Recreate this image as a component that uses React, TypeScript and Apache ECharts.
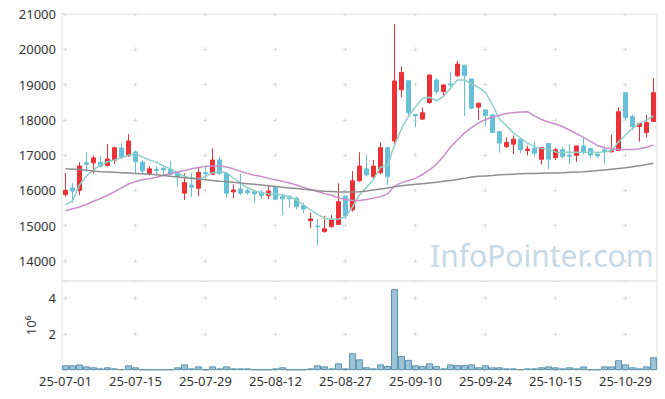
import React, { useEffect, useRef } from 'react';
import * as echarts from 'echarts';

const dates = [
  '25-07-01','25-07-02','25-07-03','25-07-04','25-07-07','25-07-08','25-07-09','25-07-10','25-07-11','25-07-14',
  '25-07-15','25-07-16','25-07-17','25-07-18','25-07-21','25-07-22','25-07-23','25-07-24','25-07-25','25-07-28',
  '25-07-29','25-07-30','25-07-31','25-08-01','25-08-04','25-08-05','25-08-06','25-08-07','25-08-08','25-08-11',
  '25-08-12','25-08-13','25-08-14','25-08-18','25-08-19','25-08-20','25-08-21','25-08-22','25-08-25','25-08-26',
  '25-08-27','25-08-28','25-08-29','25-09-01','25-09-02','25-09-03','25-09-04','25-09-05','25-09-08','25-09-09',
  '25-09-10','25-09-11','25-09-12','25-09-15','25-09-16','25-09-17','25-09-18','25-09-19','25-09-22','25-09-23',
  '25-09-24','25-09-25','25-09-26','25-09-29','25-09-30','25-10-01','25-10-02','25-10-10','25-10-13','25-10-14',
  '25-10-15','25-10-16','25-10-17','25-10-20','25-10-21','25-10-22','25-10-23','25-10-24','25-10-27','25-10-28',
  '25-10-29','25-10-30','25-10-31','25-11-03','25-11-04'
];

const openPrices = [
  15880,16070,16000,16780,16780,16800,16700,16850,17200,16980,
  17090,16800,16480,16590,16620,16600,16510,15920,16150,16060,
  16500,16460,16860,16480,15960,16040,15990,15960,15950,15850,
  16080,15820,15820,15780,15560,15140,14990,14830,14970,15030,
  15840,15450,16270,16610,16390,16500,17210,17400,18850,19110,
  18150,18020,18490,19130,18800,19020,19250,19550,19160,18360,
  18280,18140,17670,17240,17310,17450,17130,17200,16880,17330,
  16930,17150,17000,16990,17260,17190,17030,17150,17090,17130,
  18770,18090,17810,17640,17950
];
const closePrices = [
  16000,15980,16690,16740,16920,16680,16890,17210,16940,17400,
  16810,16550,16610,16560,16580,16460,16390,16220,16090,16510,
  16470,16860,16480,15920,16010,15920,15930,15900,15850,15980,
  15750,15760,15760,15540,15470,15190,14970,14910,15160,15680,
  15280,16270,16690,16440,16690,17210,16390,19100,19340,18200,
  18110,18200,19270,18800,18990,18990,19580,19250,18330,18470,
  18120,17640,17340,17360,17450,17150,17170,17050,17210,16880,
  17150,16960,16970,17260,17070,17000,16980,17100,17130,18230,
  18060,17810,17900,17920,18770
];
const lowPrices = [
  15820,15650,15870,16530,16480,16650,16690,16750,16920,16950,
  16480,16480,16420,16420,16420,16440,16090,15730,15820,15840,
  16300,16440,16440,15800,15780,15870,15880,15650,15760,15750,
  15720,15300,15510,15470,15350,14930,14440,14800,14950,15020,
  15190,15400,16240,16400,16300,16450,16140,17290,18640,18090,
  17790,18000,18450,18720,18660,18850,19220,18110,18300,18000,
  17810,17630,17070,17200,17030,17050,16990,16960,16730,16600,
  16860,16900,16750,16810,17030,16920,16920,16740,17080,17120,
  18000,17700,17380,17500,17950
];
const highPrices = [
  16490,16200,16800,17080,16990,16980,17310,17240,17330,17590,
  17130,16850,16690,16680,16680,16830,16530,16480,16500,16630,
  16660,17190,16960,16530,16170,16480,16050,15960,16010,16130,
  16100,15920,15870,15820,15640,15370,15180,15280,15300,16200,
  15840,16550,17080,17020,16860,17360,17230,20710,19510,19120,
  18160,18340,19280,19180,19000,19350,19670,19560,19170,18490,
  18290,18150,17680,17500,17560,17460,17270,17370,17220,17340,
  17200,17230,17310,17270,17500,17200,17040,17270,17570,18360,
  18780,18150,17910,18140,19180
];

const ma5 = [
  15590,15700,16150,16410,16580,16720,16810,16860,16920,17000,
  17040,16950,16860,16800,16690,16610,16500,16400,16340,16330,
  16390,16500,16530,16500,16350,16210,16070,15990,15930,15900,
  15900,15870,15810,15730,15590,15450,15320,15210,15180,15190,
  15250,15530,15870,16090,16310,16660,16690,17290,17740,18100,
  18360,18610,18640,18540,18660,18900,19130,19130,19030,18920,
  18780,18420,18020,17830,17630,17480,17340,17240,17190,17160,
  17090,17080,17080,17080,17080,17080,17080,17090,17120,17380,
  17570,17760,17900,17990,18110
];
const ma20 = [
  15420,15480,15530,15600,15690,15770,15860,15960,16070,16180,
  16250,16300,16330,16370,16430,16470,16520,16560,16610,16650,
  16680,16690,16690,16660,16610,16540,16480,16430,16390,16340,
  16300,16260,16210,16150,16080,16030,15970,15910,15860,15790,
  15740,15710,15710,15740,15780,15820,15900,16120,16220,16280,
  16340,16450,16580,16740,16970,17230,17430,17630,17780,17910,
  18010,18080,18130,18180,18200,18220,18230,18110,18010,17940,
  17880,17810,17710,17610,17500,17390,17270,17200,17180,17160,
  17160,17160,17180,17220,17290
];
const ma60 = [
  16610,16600,16590,16570,16550,16530,16520,16510,16500,16490,
  16480,16470,16460,16440,16420,16400,16380,16360,16340,16320,
  16300,16280,16260,16250,16230,16210,16190,16170,16150,16130,
  16110,16090,16070,16050,16030,16010,15990,15975,15965,15955,
  15950,15950,15960,15980,16010,16040,16070,16100,16130,16150,
  16170,16190,16210,16230,16260,16280,16310,16340,16380,16400,
  16410,16420,16440,16450,16460,16470,16475,16480,16485,16490,
  16495,16500,16510,16520,16530,16545,16560,16580,16600,16620,
  16640,16670,16700,16730,16770
];

// trading volume, in units of 10^6 shares
const volumes = [
  0.26,0.26,0.31,0.20,0.15,0.09,0.15,0.09,0.04,0.26,
  0.15,0.03,0.03,0.03,0.03,0.03,0.15,0.31,0.09,0.20,
  0.03,0.20,0.09,0.20,0.09,0.09,0.09,0.03,0.03,0.03,
  0.09,0.15,0.03,0.03,0.03,0.09,0.26,0.20,0.09,0.37,
  0.09,0.93,0.59,0.15,0.09,0.31,0.22,4.48,0.78,0.56,
  0.26,0.22,0.37,0.22,0.09,0.31,0.28,0.28,0.31,0.15,
  0.26,0.15,0.15,0.09,0.09,0.04,0.09,0.09,0.15,0.20,
  0.15,0.09,0.15,0.09,0.20,0.03,0.03,0.20,0.20,0.54,
  0.31,0.15,0.09,0.20,0.70
];

const PRICE_MIN = 13430;
const PRICE_MAX = 21000;
const PRICE_STEP = 1000;
const VOL_STEP = 2;

export default function App() {
  const ref = useRef<HTMLDivElement>(null);

  useEffect(() => {
    if (!ref.current) return;
    const chart = echarts.init(ref.current, null, { renderer: 'svg' });

    const gridLeft = 62, gridRight = 8;
    const mainTop = 14, mainH = 267;
    const volTop = 281, volH = 89;
    const volMax = Math.max(...volumes) * 1.1;

    const crossColor = '#d9d9d9';
    const dash = 4;
    const bandW = (665 - gridLeft - gridRight) / dates.length;
    const hPeriod = bandW * 10;
    const hOffset = hPeriod - (bandW / 2 - dash / 2);
    const mainPx = (mainH * PRICE_STEP) / (PRICE_MAX - PRICE_MIN);
    const vMainOffset = dash / 2;
    const volPx = volH / volMax;
    const vVolPeriod = VOL_STEP * volPx;
    const firstVolTick = (volMax - Math.floor(volMax / VOL_STEP) * VOL_STEP) * volPx;
    const vVolOffset = (((vVolPeriod - (firstVolTick - dash / 2)) % vVolPeriod) + vVolPeriod) % vVolPeriod;

    const ohlc = dates.map((_, i) => [openPrices[i], closePrices[i], lowPrices[i], highPrices[i]]);
    const up = '#ec3237';
    const down = '#67c0d8';
    const font = 'Noto Sans';

    chart.setOption({
      animation: false,
      backgroundColor: '#ffffff',
      textStyle: { fontFamily: font },
      grid: [
        { left: gridLeft, right: gridRight, top: mainTop, height: mainH, show: true, borderColor: '#e3e3e3', borderWidth: 1 },
        { left: gridLeft, right: gridRight, top: volTop, height: volH, show: true, borderColor: '#e3e3e3', borderWidth: 1 },
      ],
      graphic: [
        {
          type: 'text',
          left: 430,
          top: 240,
          silent: true,
          z: 0,
          style: { text: 'InfoPointer.com', fill: '#c6d9e6', font: `30px "${font}"` },
        },
      ],
      xAxis: [
        {
          type: 'category', gridIndex: 0, data: dates, boundaryGap: true,
          axisLine: { show: false }, axisTick: { show: false }, axisLabel: { show: false },
          splitLine: {
            show: true, interval: 9, alignWithLabel: true,
            lineStyle: { color: crossColor, width: 1, type: [dash, mainPx - dash], dashOffset: vMainOffset },
          },
        },
        {
          type: 'category', gridIndex: 1, data: dates, boundaryGap: true,
          axisLine: { show: false }, axisTick: { show: false },
          axisLabel: { interval: 9, color: '#333', fontSize: 13, margin: 4, fontFamily: font },
          splitLine: {
            show: true, interval: 9, alignWithLabel: true,
            lineStyle: { color: crossColor, width: 1, type: [dash, vVolPeriod - dash], dashOffset: vVolOffset },
          },
        },
      ],
      yAxis: [
        {
          type: 'value', gridIndex: 0, min: PRICE_MIN, max: PRICE_MAX, splitNumber: 8, scale: true,
          axisLine: { show: false }, axisTick: { show: false },
          axisLabel: {
            color: '#333', fontSize: 13, margin: 6, fontFamily: font,
            showMinLabel: false,
            formatter: (v: number) => (v % PRICE_STEP === 0 ? String(v) : ''),
          },
          splitLine: { show: true, lineStyle: { color: crossColor, width: 1, type: [dash, hPeriod - dash], dashOffset: hOffset } },
        },
        {
          type: 'value', gridIndex: 1, min: 0, max: volMax, interval: VOL_STEP,
          name: '10⁶', nameLocation: 'middle', nameGap: 24, nameRotate: 90,
          nameTextStyle: { color: '#333', fontSize: 13, fontFamily: font },
          axisLine: { show: false }, axisTick: { show: false },
          axisLabel: {
            color: '#333', fontSize: 13, margin: 6, fontFamily: font,
            showMaxLabel: false,
            formatter: (v: number) => (v > 0 && v % VOL_STEP === 0 ? String(v) : ''),
          },
          splitLine: { show: true, lineStyle: { color: crossColor, width: 1, type: [dash, hPeriod - dash], dashOffset: hOffset } },
        },
      ],
      series: [
        {
          type: 'candlestick', name: 'price', xAxisIndex: 0, yAxisIndex: 0, data: ohlc, barWidth: 4,
          itemStyle: { color: up, color0: down, borderColor: up, borderColor0: down, borderWidth: 1 },
        },
        {
          type: 'line', name: 'MA5', xAxisIndex: 0, yAxisIndex: 0, data: ma5, showSymbol: false, symbol: 'none',
          lineStyle: { color: '#8fd0c7', width: 1.5 },
        },
        {
          type: 'line', name: 'MA20', xAxisIndex: 0, yAxisIndex: 0, data: ma20, showSymbol: false, symbol: 'none',
          lineStyle: { color: '#c98fc8', width: 1.5 },
        },
        {
          type: 'line', name: 'MA60', xAxisIndex: 0, yAxisIndex: 0, data: ma60, showSymbol: false, symbol: 'none',
          lineStyle: { color: '#8e8e8e', width: 1.5 },
        },
        {
          type: 'bar', name: 'volume', xAxisIndex: 1, yAxisIndex: 1, data: volumes, barCategoryGap: '0%',
          itemStyle: { color: '#9cc3d5', borderColor: '#5f96b1', borderWidth: 1 },
        },
      ],
    });

    return () => chart.dispose();
  }, []);

  return <div ref={ref} style={{ position: 'fixed', left: 0, top: 0, width: 665, height: 399 }} />;
}
